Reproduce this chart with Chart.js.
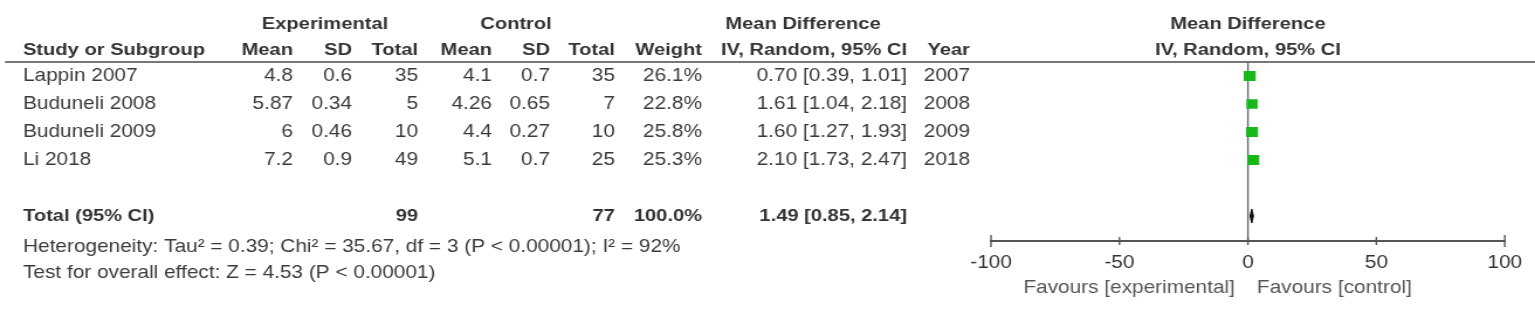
<!DOCTYPE html>
<html>
<head>
<meta charset="utf-8">
<style>
  html, body { margin: 0; padding: 0; background: #fff; overflow: hidden; }
  /* the source image is stretched horizontally, so the whole canvas is too */
  #wrap { width: 1312px; height: 316px; transform: scaleX(1.17); transform-origin: 0 0; }
</style>
<script src="https://cdn.jsdelivr.net/npm/chart.js@4.4.1/dist/chart.umd.min.js"></script>
</head>
<body>
<div id="wrap"><canvas id="forest" width="1312" height="316"></canvas></div>
<script>
// Study data
const studies = ['Lappin 2007', 'Buduneli 2008', 'Buduneli 2009', 'Li 2018'];
const expMean = [4.8, 5.87, 6, 7.2];
const expSD = [0.6, 0.34, 0.46, 0.9];
const expTotal = [35, 5, 10, 49];
const ctrlMean = [4.1, 4.26, 4.4, 5.1];
const ctrlSD = [0.7, 0.65, 0.27, 0.7];
const ctrlTotal = [35, 7, 10, 25];
const weights = [26.1, 22.8, 25.8, 25.3];
const md = [0.70, 1.61, 1.60, 2.10];
const ciLow = [0.39, 1.04, 1.27, 1.73];
const ciHigh = [1.01, 2.18, 1.93, 2.47];
const years = [2007, 2008, 2009, 2018];

// Pooled result
const totalExp = 99;
const totalCtrl = 77;
const totalWeight = 100.0;
const totalMd = 1.49;
const totalLow = 0.85;
const totalHigh = 2.14;
const heterogeneity = 'Heterogeneity: Tau\u00b2 = 0.39; Chi\u00b2 = 35.67, df = 3 (P < 0.00001); I\u00b2 = 92%';
const overallEffect = 'Test for overall effect: Z = 4.53 (P < 0.00001)';

const xTicks = [-100, -50, 0, 50, 100];
const favoursLeft = 'Favours [experimental]';
const favoursRight = 'Favours [control]';

// layout (reference pixels, divided by S for the stretched canvas)
const S = 1.17;
const W = 1312;
const FS = 17.8;
const FS_BOLD = 17.2;
const TOTAL_ROW = 5;
const col = { study: 23, expMean: 293, expSD: 352, expTotal: 418, ctrlMean: 492,
              ctrlSD: 550, ctrlTotal: 615, weight: 702, ci: 907, year: 970 };

function txt(ctx, s, x, y, align, bold, color) {
    ctx.font = bold ? `bold ${FS_BOLD}px "Liberation Sans", Arial, sans-serif`
                    : `${FS}px "Liberation Sans", Arial, sans-serif`;
    ctx.fillStyle = color || '#3a3a3a';
    ctx.textAlign = align;
    ctx.textBaseline = 'middle';
    ctx.fillText(s, x / S, y);
}
const ci = (m, l, h) => `${m.toFixed(2)} [${l.toFixed(2)}, ${h.toFixed(2)}]`;

const tablePlugin = {
    id: 'table',
    beforeDatasetsDraw(chart) {
        const { ctx, chartArea, scales: { x } } = chart;
        ctx.save();
        // header rule
        ctx.strokeStyle = '#777';
        ctx.lineWidth = 2;
        ctx.beginPath();
        ctx.moveTo(5 / S, chartArea.top);
        ctx.lineTo(W, chartArea.top);
        ctx.stroke();
        // line of no effect
        const x0 = x.getPixelForValue(0);
        ctx.strokeStyle = '#666';
        ctx.lineWidth = 1.4;
        ctx.beginPath();
        ctx.moveTo(x0, chartArea.top);
        ctx.lineTo(x0, chartArea.bottom);
        ctx.stroke();
        // tick marks crossing the axis
        ctx.strokeStyle = '#555';
        ctx.lineWidth = 1.4;
        xTicks.forEach((v, i) => {
            const px = x.getPixelForValue(v);
            const h = (i === 0 || i === xTicks.length - 1) ? 6 : 4;
            ctx.beginPath();
            ctx.moveTo(px, chartArea.bottom - h);
            ctx.lineTo(px, chartArea.bottom + h);
            ctx.stroke();
        });
        ctx.restore();
    },
    afterDraw(chart) {
        const { ctx, scales: { x, y } } = chart;
        ctx.save();
        const x0 = x.getPixelForValue(0) * S;
        // group headers
        txt(ctx, 'Experimental', 325, 24, 'center', true, '#333');
        txt(ctx, 'Control', 516, 24, 'center', true, '#333');
        txt(ctx, 'Mean Difference', 803, 24, 'center', true, '#333');
        txt(ctx, 'Mean Difference', x0, 24, 'center', true, '#333');
        // column headers
        const hy = 50;
        txt(ctx, 'Study or Subgroup', col.study, hy, 'left', true, '#333');
        txt(ctx, 'Mean', col.expMean, hy, 'right', true, '#333');
        txt(ctx, 'SD', col.expSD, hy, 'right', true, '#333');
        txt(ctx, 'Total', col.expTotal, hy, 'right', true, '#333');
        txt(ctx, 'Mean', col.ctrlMean, hy, 'right', true, '#333');
        txt(ctx, 'SD', col.ctrlSD, hy, 'right', true, '#333');
        txt(ctx, 'Total', col.ctrlTotal, hy, 'right', true, '#333');
        txt(ctx, 'Weight', col.weight, hy, 'right', true, '#333');
        txt(ctx, 'IV, Random, 95% CI', col.ci, hy, 'right', true, '#333');
        txt(ctx, 'Year', col.year, hy, 'right', true, '#333');
        txt(ctx, 'IV, Random, 95% CI', x0, hy, 'center', true, '#333');
        // study rows
        studies.forEach((name, i) => {
            const ry = y.getPixelForValue(i);
            txt(ctx, name, col.study, ry, 'left');
            txt(ctx, String(expMean[i]), col.expMean, ry, 'right');
            txt(ctx, String(expSD[i]), col.expSD, ry, 'right');
            txt(ctx, String(expTotal[i]), col.expTotal, ry, 'right');
            txt(ctx, String(ctrlMean[i]), col.ctrlMean, ry, 'right');
            txt(ctx, String(ctrlSD[i]), col.ctrlSD, ry, 'right');
            txt(ctx, String(ctrlTotal[i]), col.ctrlTotal, ry, 'right');
            txt(ctx, weights[i].toFixed(1) + '%', col.weight, ry, 'right');
            txt(ctx, ci(md[i], ciLow[i], ciHigh[i]), col.ci, ry, 'right');
            txt(ctx, String(years[i]), col.year, ry, 'right');
        });
        // total row
        const ty = y.getPixelForValue(TOTAL_ROW);
        txt(ctx, 'Total (95% CI)', col.study, ty, 'left', true, '#333');
        txt(ctx, String(totalExp), col.expTotal, ty, 'right', true, '#333');
        txt(ctx, String(totalCtrl), col.ctrlTotal, ty, 'right', true, '#333');
        txt(ctx, totalWeight.toFixed(1) + '%', col.weight, ty, 'right', true, '#333');
        txt(ctx, ci(totalMd, totalLow, totalHigh), col.ci, ty, 'right', true, '#333');
        txt(ctx, heterogeneity, col.study, 247, 'left');
        txt(ctx, overallEffect, col.study, 273, 'left');
        // favours labels
        txt(ctx, favoursLeft, x0 - 13, 288, 'right', false, '#555');
        txt(ctx, favoursRight, x0 + 9, 288, 'left', false, '#555');
        ctx.restore();
    }
};

const squareSide = (w) => 2.0 * Math.sqrt(w);

const datasets = [
    {
        type: 'scatter',
        label: 'Studies',
        data: md.map((m, i) => ({ x: m, y: i })),
        pointStyle: 'rect',
        pointRadius: weights.map(w => squareSide(w) / Math.SQRT2),
        backgroundColor: '#18b818',
        borderColor: '#18b818',
        borderWidth: 0,
        order: 0,
    },
    ...studies.map((name, i) => ({
        type: 'line',
        label: name + ' CI',
        data: [{ x: ciLow[i], y: i }, { x: ciHigh[i], y: i }],
        borderColor: '#222',
        borderWidth: 1.5,
        pointRadius: 0,
        order: 1,
    })),
    {
        type: 'line',
        label: 'Total',
        data: [
            { x: totalLow, y: TOTAL_ROW },
            { x: totalMd, y: TOTAL_ROW - 0.25 },
            { x: totalHigh, y: TOTAL_ROW },
            { x: totalMd, y: TOTAL_ROW + 0.25 },
            { x: totalLow, y: TOTAL_ROW },
        ],
        borderColor: '#111',
        backgroundColor: '#111',
        borderWidth: 1,
        fill: 'shape',
        pointRadius: 0,
        tension: 0,
        order: 0,
    },
];

new Chart(document.getElementById('forest'), {
    data: { datasets },
    options: {
        responsive: false,
        animation: false,
        devicePixelRatio: 1,
        layout: { padding: { left: 991 / S, right: W - 1514 / S, top: 62, bottom: 0 } },
        plugins: { legend: { display: false }, tooltip: { enabled: false } },
        scales: {
            x: {
                type: 'linear',
                min: -100,
                max: 100,
                afterBuildTicks: (scale) => { scale.ticks = xTicks.map(v => ({ value: v })); },
                afterFit: (scale) => { scale.height = 316 - 241; },
                ticks: {
                    callback: (v) => String(v),
                    color: '#333',
                    padding: 11,
                    maxRotation: 0,
                    autoSkip: false,
                    font: { family: '"Liberation Sans", Arial, sans-serif', size: FS },
                },
                grid: { drawOnChartArea: false, drawTicks: false },
                border: { display: true, color: '#555', width: 2 },
            },
            y: {
                type: 'linear',
                display: false,
                reverse: true,
                min: -0.5,
                max: -0.5 + 179 / 28,
            },
        },
    },
    plugins: [tablePlugin],
});
</script>
</body>
</html>
